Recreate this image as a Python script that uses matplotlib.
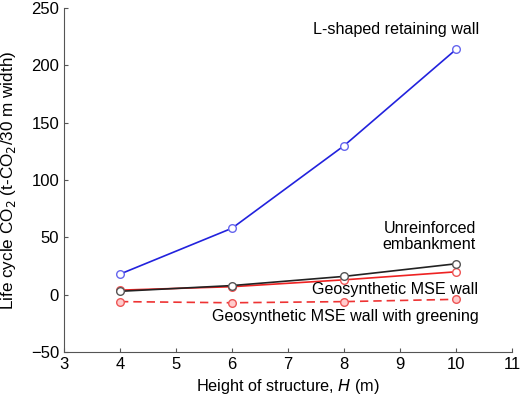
import matplotlib.pyplot as plt

plt.rcParams['font.family'] = ['Liberation Sans', 'DejaVu Sans']

heights = [4, 6, 8, 10]
l_shaped = [18, 58, 130, 214]
unreinforced = [3, 8, 16, 27]
mse_wall = [4, 7, 13, 20]
mse_greening = [-6, -7, -6, -4]

fig = plt.figure(figsize=(5.2, 4.01), dpi=100)
ax = fig.add_axes([0.123, 0.122, 0.862, 0.858])

ax.plot(heights, l_shaped, color='#2222dd', lw=1.2, marker='o', ms=5.5,
        mfc='white', mec='#6666ee', mew=1)
ax.plot(heights, mse_wall, color='#ee2222', lw=1.2, marker='o', ms=5.5,
        mfc='white', mec='#ee5555', mew=1)
ax.plot(heights, unreinforced, color='#222222', lw=1.2, marker='o', ms=5.5,
        mfc='white', mec='#555555', mew=1)
ax.plot(heights, mse_greening, color='#ee3333', lw=1.2, ls=(0, (5, 3)), marker='o', ms=5.5,
        mfc='#ffcccc', mec='#ee5555', mew=1)

ax.set_xlim(3, 11)
ax.set_ylim(-50, 250)
ax.set_xticks(range(3, 12))
ax.set_yticks(range(-50, 251, 50))
ax.set_yticklabels(['\u221250', '0', '50', '100', '150', '200', '250'])
for s in ['top', 'right']:
    ax.spines[s].set_visible(False)
for s in ['left', 'bottom']:
    ax.spines[s].set_color('#555555')
ax.tick_params(direction='in', length=3, labelsize=12, color='#555555')

ax.set_xlabel('Height of structure, $\\it{H}$ (m)', fontsize=11.7)
ax.set_ylabel('Life cycle CO$_2$ (t-CO$_2$/30 m width)', fontsize=12.3, labelpad=9)

ax.text(7.45, 231, 'L-shaped retaining wall', fontsize=11.6, va='center')
ax.text(10.35, 51, 'Unreinforced\nembankment', fontsize=11.6, ha='right', va='center',
        linespacing=1.1)
ax.text(10.4, 4.5, 'Geosynthetic MSE wall', fontsize=11.6, ha='right', va='center')
ax.text(10.4, -19, 'Geosynthetic MSE wall with greening', fontsize=11.6, ha='right', va='center')

fig.savefig('out.png', dpi=100)
